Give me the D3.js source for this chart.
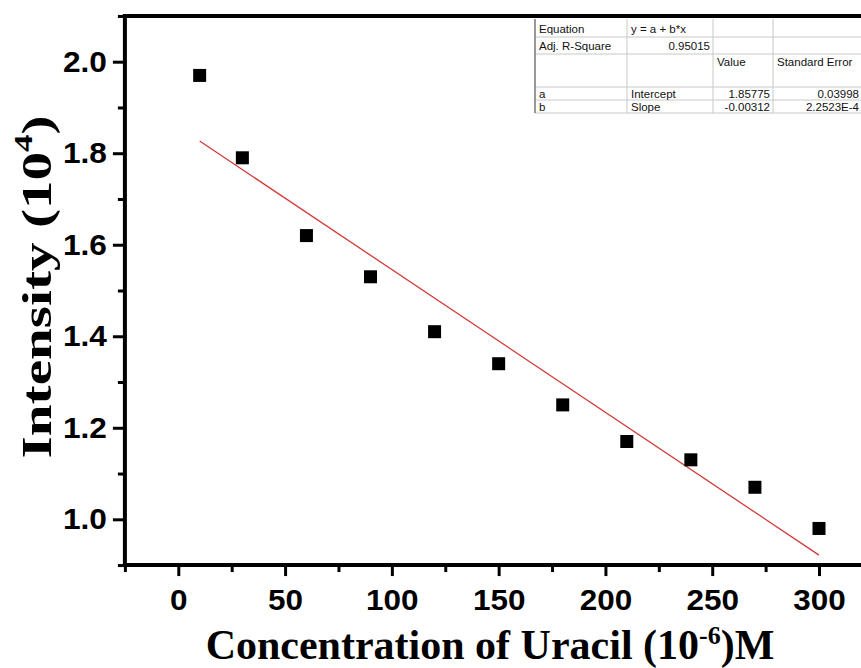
<!DOCTYPE html>
<html>
<head>
<meta charset="utf-8">
<script src="https://cdn.jsdelivr.net/npm/d3@7"></script>
<style>
  html, body { margin: 0; padding: 0; background: #fff; }
  svg { display: block; }
  .tick-label { font-family: "Liberation Sans", Arial, sans-serif; font-weight: bold; }
</style>
</head>
<body>
<svg id="chart" width="861" height="668"></svg>
<script>
// Uracil concentration (10^-6 M) vs. fluorescence intensity (10^4)
const concentration = [10, 30, 60, 90, 120, 150, 180, 210, 240, 270, 300];
const intensity = [1.97, 1.79, 1.62, 1.53, 1.41, 1.34, 1.25, 1.17, 1.13, 1.07, 0.98];

// Linear fit y = a + b*x
const fitIntercept = 1.85775;
const fitSlope = -0.00312;
const fitRange = [10, 300];

const xMajorTicks = [0, 50, 100, 150, 200, 250, 300];
const xMinorTicks = [-25, 25, 75, 125, 175, 225, 275, 325];
const yMajorTicks = [1.0, 1.2, 1.4, 1.6, 1.8, 2.0];
const yMinorTicks = [0.9, 1.1, 1.3, 1.5, 1.7, 1.9, 2.1];

// Fit report table rows
const tableRows = [
  ["Equation", "y = a + b*x", "", ""],
  ["Adj. R-Square", "0.95015", "", ""],
  ["", "", "Value", "Standard Error"],
  ["a", "Intercept", "1.85775", "0.03998"],
  ["b", "Slope", "-0.00312", "2.2523E-4"]
];

const svg = d3.select("#chart");

const x = d3.scaleLinear().domain([0, 300]).range([178.3, 819]);
const y = d3.scaleLinear().domain([1.0, 2.0]).range([519.3, 61.7]);

const xLeft = x(-25), xRight = x(340);
const yBottom = y(0.9), yTop = y(2.1);

const serif = "'Liberation Serif', 'Times New Roman', serif";

// Frame: top border line
svg.append("line")
  .attr("x1", xLeft).attr("x2", xRight)
  .attr("y1", yTop).attr("y2", yTop)
  .attr("stroke", "#000").attr("stroke-width", 4);

// Bottom axis
const xAxis = d3.axisBottom(x).tickValues(xMajorTicks).tickSize(11).tickPadding(13)
  .tickFormat(d3.format("d"));
const gx = svg.append("g").attr("transform", `translate(0,${yBottom})`).call(xAxis);
gx.attr("font-family", null);
gx.select(".domain").remove();
gx.selectAll(".tick line").attr("stroke", "#000").attr("stroke-width", 3);
gx.selectAll(".tick text").attr("class", "tick-label")
  .attr("font-size", 30).attr("fill", "#000")
  .attr("textLength", d => String(d).length * 17.5)
  .attr("lengthAdjust", "spacingAndGlyphs");
svg.append("g").attr("transform", `translate(0,${yBottom})`)
  .call(d3.axisBottom(x).tickValues(xMinorTicks).tickSize(7).tickFormat(""))
  .call(g => g.select(".domain").remove())
  .selectAll(".tick line").attr("stroke", "#000").attr("stroke-width", 3);
svg.append("line")
  .attr("x1", xLeft - 2).attr("x2", xRight)
  .attr("y1", yBottom).attr("y2", yBottom)
  .attr("stroke", "#000").attr("stroke-width", 4);

// Left axis
const yAxis = d3.axisLeft(y).tickValues(yMajorTicks).tickSize(12).tickPadding(6)
  .tickFormat(d3.format(".1f"));
const gy = svg.append("g").attr("transform", `translate(${xLeft},0)`).call(yAxis);
gy.attr("font-family", null);
gy.select(".domain").remove();
gy.selectAll(".tick line").attr("stroke", "#000").attr("stroke-width", 3);
gy.selectAll(".tick text").attr("class", "tick-label")
  .attr("font-size", 30).attr("fill", "#000")
  .attr("textLength", 44).attr("lengthAdjust", "spacingAndGlyphs");
svg.append("g").attr("transform", `translate(${xLeft},0)`)
  .call(d3.axisLeft(y).tickValues(yMinorTicks).tickSize(7).tickFormat(""))
  .call(g => g.select(".domain").remove())
  .selectAll(".tick line").attr("stroke", "#000").attr("stroke-width", 3);
svg.append("line")
  .attr("x1", xLeft).attr("x2", xLeft)
  .attr("y1", yTop - 2).attr("y2", yBottom + 2)
  .attr("stroke", "#000").attr("stroke-width", 4);

// Fit line
svg.append("line")
  .attr("x1", x(fitRange[0])).attr("y1", y(fitIntercept + fitSlope * fitRange[0]))
  .attr("x2", x(fitRange[1])).attr("y2", y(fitIntercept + fitSlope * fitRange[1]))
  .attr("stroke", "#d23a3a").attr("stroke-width", 1.3);

// Data markers
const sq = 13;
svg.append("g").selectAll("rect")
  .data(concentration.map((c, i) => [c, intensity[i]]))
  .join("rect")
  .attr("x", d => x(d[0]) - sq / 2)
  .attr("y", d => y(d[1]) - sq / 2)
  .attr("width", sq).attr("height", sq)
  .attr("fill", "#000");

// Axis titles
const xt = svg.append("text")
  .attr("x", 490).attr("y", 659)
  .attr("text-anchor", "middle")
  .attr("font-family", serif).attr("font-weight", "bold")
  .attr("font-size", 42).attr("fill", "#000");
xt.append("tspan").text("Concentration of Uracil (10");
xt.append("tspan").attr("font-size", 26).attr("dy", -15).text("-6");
xt.append("tspan").attr("dy", 15).text(")M");

const yt = svg.append("text")
  .attr("transform", "translate(51,287) rotate(-90) scale(1.33,1)")
  .attr("text-anchor", "middle")
  .attr("font-family", serif).attr("font-weight", "bold")
  .attr("font-size", 43).attr("fill", "#000");
yt.append("tspan").text("Intensity (10");
yt.append("tspan").attr("font-size", 26).attr("dy", -19).text("4");
yt.append("tspan").attr("dy", 19).text(")");

// Fit report table
const colX = [535, 627, 713, 773, 862];
const rowY = [19, 37, 54, 87, 100, 113];
const tbl = svg.append("g");
tbl.append("rect")
  .attr("x", colX[0]).attr("y", rowY[0])
  .attr("width", colX[4] - colX[0]).attr("height", rowY[5] - rowY[0])
  .attr("fill", "#fff");
rowY.slice(1).forEach(yy => {
  tbl.append("line").attr("x1", colX[0]).attr("x2", colX[4])
    .attr("y1", yy).attr("y2", yy)
    .attr("stroke", "#c8c8c8").attr("stroke-width", 1);
});
colX.slice(1, 4).forEach(xx => {
  tbl.append("line").attr("x1", xx).attr("x2", xx)
    .attr("y1", rowY[0]).attr("y2", rowY[5])
    .attr("stroke", "#c8c8c8").attr("stroke-width", 1);
});
tbl.append("line").attr("x1", colX[0]).attr("x2", colX[0])
  .attr("y1", rowY[0]).attr("y2", rowY[5])
  .attr("stroke", "#777").attr("stroke-width", 1.5);

const rightAligned = (r, c) => (r === 1 && c === 1) || (r >= 3 && c >= 2);
const textBaseline = [33, 50, 66, 97.5, 110.5];
tableRows.forEach((row, r) => {
  row.forEach((cell, c) => {
    if (!cell) return;
    const ra = rightAligned(r, c);
    tbl.append("text")
      .attr("x", ra ? colX[c + 1] - 3 : colX[c] + 4)
      .attr("y", textBaseline[r])
      .attr("text-anchor", ra ? "end" : "start")
      .attr("font-family", "'Liberation Sans', Arial, sans-serif")
      .attr("font-size", 11.5).attr("fill", "#111")
      .text(cell);
  });
});
</script>
</body>
</html>
